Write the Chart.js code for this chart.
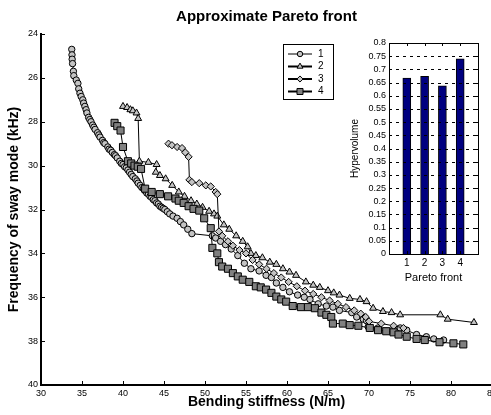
<!DOCTYPE html>
<html><head><meta charset="utf-8">
<script src="https://cdn.jsdelivr.net/npm/chart.js@4.4.1/dist/chart.umd.min.js"></script>
<style>
html,body{margin:0;padding:0;background:#fff;overflow:hidden;width:491px;height:415px;}
#wrap{position:relative;width:491px;height:415px;overflow:hidden;background:#fff;}
#main{position:absolute;left:0;top:0;}
#inset{position:absolute;left:330px;top:30px;}
</style></head><body>
<div id="wrap">
<canvas id="main" width="500" height="415"></canvas>
<canvas id="inset" width="161" height="255"></canvas>
</div>
<script>
const FONT = '"Liberation Sans", Arial, sans-serif';

// ---- main chart data ----
const seriesNames = ['1', '2', '3', '4'];

const s1x = [33.75,33.78,33.8,33.85,33.95,34.0,34.3,34.5,34.6,34.75,34.9,35.1,35.2,35.35,35.5,35.6,35.8,35.95,36.1,36.3,36.45,36.6,36.9,37.05,37.2,37.5,37.65,37.8,38.15,38.3,38.5,38.7,38.95,39.1,39.3,39.6,39.8,40.0,40.2,40.4,40.6,40.8,41.0,41.2,41.5,41.7,41.85,42.1,42.3,42.5,42.7,42.9,43.1,43.3,43.5,43.7,43.9,44.1,44.3,44.5,44.7,44.9,45.1,45.4,45.7,46.1,46.6,47.0,47.4,47.9,48.4,50.9,51.3,51.9,52.5,53.2,54.0,54.8,55.6,56.6,57.45,58.1,58.7,59.5,60.3,61.3,62.1,62.8,63.8,64.8,65.6,66.4,67.9,68.5,69.3,69.7,69.9,71.1,73.8,74.6,75.8,77.0,77.9,79.1];
const s1y = [24.7,24.95,25.15,25.35,25.7,25.9,26.1,26.25,26.5,26.7,26.85,27.0,27.15,27.3,27.45,27.6,27.8,27.9,28.0,28.15,28.25,28.35,28.5,28.6,28.7,28.85,28.95,29.0,29.15,29.25,29.3,29.4,29.5,29.55,29.65,29.8,29.9,29.95,30.05,30.1,30.2,30.3,30.4,30.5,30.6,30.7,30.8,30.9,31.0,31.05,31.15,31.25,31.3,31.4,31.45,31.55,31.6,31.7,31.75,31.85,31.9,31.95,32.0,32.1,32.2,32.3,32.4,32.55,32.7,32.9,33.1,33.2,33.3,33.45,33.6,33.8,34.1,34.45,34.7,34.8,35.0,35.1,35.35,35.55,35.75,35.9,36.0,36.1,36.3,36.4,36.45,36.6,36.7,36.9,37.0,37.07,37.35,37.4,37.4,37.5,37.7,37.8,37.9,37.95];

const s2x = [40.0,40.5,40.9,41.2,41.65,41.85,42.0,43.1,44.1,44.0,44.5,45.2,46.0,46.8,47.5,48.3,49.0,49.7,50.5,51.1,51.5,52.3,52.96,53.8,54.6,55.2,55.6,56.2,57.0,57.9,58.7,59.5,60.3,61.1,62.3,63.2,64.0,65.0,65.7,66.4,67.65,68.9,69.7,70.5,71.7,72.75,73.8,78.7,79.6,82.8];
const s2y = [27.3,27.35,27.45,27.5,27.6,27.85,29.8,29.85,29.95,30.3,30.45,30.6,30.9,31.2,31.4,31.6,31.75,31.9,32.08,32.2,32.3,32.7,32.9,33.2,33.45,33.7,34.0,34.1,34.2,34.4,34.5,34.7,34.85,35.0,35.3,35.45,35.55,35.7,35.8,35.9,36.05,36.1,36.2,36.5,36.65,36.7,36.8,36.8,37.0,37.15];

const s3x = [45.55,45.97,46.6,47.2,47.6,48.0,48.1,48.4,49.3,50.1,50.7,51.3,51.5,51.7,52.1,52.8,53.4,54.2,55.0,55.8,56.6,57.5,58.4,59.3,60.2,61.2,62.2,63.2,64.2,65.2,66.2,67.2,68.2,69.0,69.6,70.0,71.5,73.0,74.2];
const s3y = [29.0,29.07,29.15,29.2,29.4,29.6,30.65,30.75,30.8,30.9,30.95,31.2,31.3,33.0,33.2,33.45,33.65,33.85,34.0,34.3,34.5,34.7,34.9,35.1,35.3,35.5,35.7,35.85,36.0,36.15,36.3,36.45,36.6,36.75,36.9,37.1,37.2,37.3,37.4];

const s4x = [38.97,39.3,39.7,40.0,40.6,41.0,41.4,41.8,42.2,42.7,43.5,44.5,45.5,46.4,46.8,47.4,48.0,48.6,49.3,49.9,50.7,50.9,51.5,51.7,52.1,52.8,53.4,54.0,54.6,55.4,56.2,56.8,57.45,58.1,58.7,59.3,59.9,60.7,61.7,62.55,63.4,64.2,64.8,65.4,65.6,66.8,67.65,68.7,70.1,71.1,72.1,73.0,73.6,74.6,75.8,76.8,78.6,80.3,81.5];
const s4y = [28.05,28.2,28.4,29.15,29.8,29.9,30.0,30.05,30.15,31.05,31.2,31.3,31.4,31.5,31.6,31.7,31.85,31.97,32.05,32.4,32.85,33.75,34.0,34.4,34.6,34.7,34.9,35.05,35.2,35.3,35.5,35.55,35.65,35.8,35.97,36.1,36.2,36.4,36.45,36.45,36.5,36.7,36.8,36.9,37.2,37.2,37.27,37.3,37.4,37.5,37.55,37.6,37.7,37.8,37.9,37.95,38.05,38.1,38.15];

// ---- inset data ----
const barCats = ['1', '2', '3', '4'];
const hyper = [0.667, 0.674, 0.638, 0.740];

const pts = (xs, ys) => xs.map((x, i) => ({x: x, y: ys[i]}));

const styles = [
  {pointStyle: 'circle', radius: 3.2, bg: '#c4c4c4', lw: 1},
  {pointStyle: 'triangle', radius: 4, bg: '#c4c4c4', lw: 2},
  {pointStyle: 'rectRot', radius: 3.6, bg: '#c4c4c4', lw: 2},
  {pointStyle: 'rect', radius: 5, bg: '#808080', lw: 2}
];
const seriesData = [pts(s1x, s1y), pts(s2x, s2y), pts(s3x, s3y), pts(s4x, s4y)];

const inwardTicks = {
  id: 'inward',
  afterDraw(chart, args, opts) {
    const {ctx, chartArea: a, scales} = chart;
    const len = opts.len || 4;
    ctx.save();
    ctx.strokeStyle = '#000';
    ctx.lineWidth = 1;
    if (opts.dashGrid) {
      ctx.setLineDash([3, 4]);
      scales.y.ticks.forEach(t => {
        const py = Math.round(scales.y.getPixelForValue(t.value)) + 0.5;
        if (py <= a.top + 1 || py >= a.bottom - 1) return;
        ctx.beginPath(); ctx.moveTo(a.left, py); ctx.lineTo(a.right, py); ctx.stroke();
      });
      ctx.setLineDash([]);
    }
    scales.x.ticks.forEach(t => {
      if (opts.xOnly && !opts.xOnly(t.value)) return;
      const px = Math.round(scales.x.getPixelForValue(t.value)) + 0.5;
      ctx.beginPath(); ctx.moveTo(px, a.bottom); ctx.lineTo(px, a.bottom - len); ctx.stroke();
      if (opts.box) { ctx.beginPath(); ctx.moveTo(px, a.top); ctx.lineTo(px, a.top + len); ctx.stroke(); }
    });
    scales.y.ticks.forEach(t => {
      const py = Math.round(scales.y.getPixelForValue(t.value)) + 0.5;
      ctx.beginPath(); ctx.moveTo(a.left, py); ctx.lineTo(a.left + len, py); ctx.stroke();
      if (opts.box) { ctx.beginPath(); ctx.moveTo(a.right, py); ctx.lineTo(a.right - len, py); ctx.stroke(); }
    });
    if (opts.box) {
      ctx.strokeRect(Math.round(a.left) + 0.5, Math.round(a.top) + 0.5, Math.round(a.right - a.left), Math.round(a.bottom - a.top));
    }
    ctx.restore();
  }
};

const legendBox = {
  id: 'legendBox',
  afterDraw(chart, args, o) {
    const ctx = chart.ctx;
    ctx.save();
    ctx.fillStyle = '#fff';
    ctx.fillRect(o.x, o.y, o.w, o.h);
    ctx.strokeStyle = '#000';
    ctx.lineWidth = 1;
    ctx.strokeRect(o.x + 0.5, o.y + 0.5, o.w, o.h);
    seriesNames.forEach((name, i) => {
      const st = styles[i];
      const cy = o.y + o.first + i * o.step;
      ctx.strokeStyle = '#000';
      ctx.lineWidth = st.lw;
      ctx.beginPath(); ctx.moveTo(o.x + 5, cy); ctx.lineTo(o.x + 29, cy); ctx.stroke();
      ctx.fillStyle = st.bg;
      ctx.lineWidth = 1;
      if (Chart.helpers && Chart.helpers.drawPoint) {
        Chart.helpers.drawPoint(ctx, {pointStyle: st.pointStyle, radius: st.radius * 0.85, rotation: 0, borderWidth: 1}, o.x + 17, cy);
      } else {
        ctx.beginPath(); ctx.arc(o.x + 17, cy, 3, 0, Math.PI * 2); ctx.fill(); ctx.stroke();
      }
      ctx.fillStyle = '#000';
      ctx.font = '10px ' + FONT;
      ctx.textBaseline = 'middle';
      ctx.textAlign = 'left';
      ctx.fillText(name, o.x + 35, cy);
    });
    ctx.restore();
  }
};

new Chart(document.getElementById('main'), {
  type: 'scatter',
  data: {
    datasets: seriesData.map((d, i) => ({
      label: seriesNames[i],
      data: d,
      showLine: true,
      borderColor: '#000',
      borderWidth: 1,
      pointStyle: styles[i].pointStyle,
      pointRadius: styles[i].radius,
      pointBackgroundColor: styles[i].bg,
      pointBorderColor: '#000',
      pointBorderWidth: 1,
      order: 3 - i
    }))
  },
  options: {
    responsive: false,
    animation: false,
    events: [],
    layout: {padding: {left: 0, right: 6, top: 0, bottom: 0}},
    plugins: {
      legend: {display: false},
      tooltip: {enabled: false},
      title: {
        display: true, text: 'Approximate Pareto front', fullSize: false, color: '#000',
        font: {family: FONT, size: 15, weight: 'bold'}, padding: {top: 8, bottom: 8}
      },
      inward: {len: 4},
      legendBox: {x: 283, y: 44, w: 50, h: 55, first: 10, step: 12.5}
    },
    scales: {
      x: {
        type: 'linear', min: 30, max: 85,
        ticks: {stepSize: 5, color: '#000', font: {family: FONT, size: 9}, padding: 3, maxRotation: 0},
        grid: {display: true, drawOnChartArea: false, drawTicks: false},
        border: {display: true, color: '#000', width: 2},
        title: {display: true, text: 'Bending stiffness (N/m)', color: '#000', font: {family: FONT, size: 14, weight: 'bold'}, padding: {top: 0, bottom: 4}},
        afterFit: s => { s.height = 30; }
      },
      y: {
        type: 'linear', min: 24, max: 40, reverse: true,
        ticks: {stepSize: 2, color: '#000', font: {family: FONT, size: 9}, padding: 3},
        grid: {display: true, drawOnChartArea: false, drawTicks: false},
        border: {display: true, color: '#000', width: 2},
        title: {display: true, text: 'Frequency of sway mode (kHz)', color: '#000', font: {family: FONT, size: 14, weight: 'bold'}, padding: {top: 6, bottom: 0}},
        afterFit: s => { s.width = 41; }
      }
    }
  },
  plugins: [inwardTicks, legendBox]
});

new Chart(document.getElementById('inset'), {
  type: 'bar',
  data: {
    datasets: [{
      data: hyper.map((v, i) => ({x: i + 1, y: v})),
      backgroundColor: '#000080',
      borderColor: '#000',
      borderWidth: 1,
      barThickness: 8
    }]
  },
  options: {
    responsive: false,
    animation: false,
    events: [],
    layout: {padding: {left: 0, right: 13, top: 13, bottom: 0}},
    plugins: {
      legend: {display: false},
      tooltip: {enabled: false},
      inward: {len: 3, box: true, dashGrid: true, xOnly: v => v >= 1 && v <= barCats.length}
    },
    scales: {
      x: {
        type: 'linear', min: 0, max: 5, offset: false,
        ticks: {stepSize: 1, autoSkip: false, maxRotation: 0, color: '#000', font: {family: FONT, size: 10}, padding: 3,
          callback: v => (v >= 1 && v <= barCats.length) ? barCats[v - 1] : ''},
        grid: {display: false, drawTicks: false},
        border: {display: false},
        title: {display: true, text: 'Pareto front', color: '#000', font: {family: FONT, size: 11}, padding: {top: 1, bottom: 0}},
        afterFit: s => { s.height = 31; }
      },
      y: {
        type: 'linear', min: 0, max: 0.8,
        ticks: {stepSize: 0.05, autoSkip: false, color: '#000', font: {family: FONT, size: 9}, padding: 3,
          callback: v => String(+(+v).toFixed(2))},
        grid: {display: false, drawTicks: false},
        border: {display: false},
        title: {display: true, text: 'Hypervolume', color: '#000', font: {family: FONT, size: 10}, padding: {top: 19, bottom: 0}},
        afterFit: s => { s.width = 59; }
      }
    }
  },
  plugins: [inwardTicks]
});
</script>
</body></html>
